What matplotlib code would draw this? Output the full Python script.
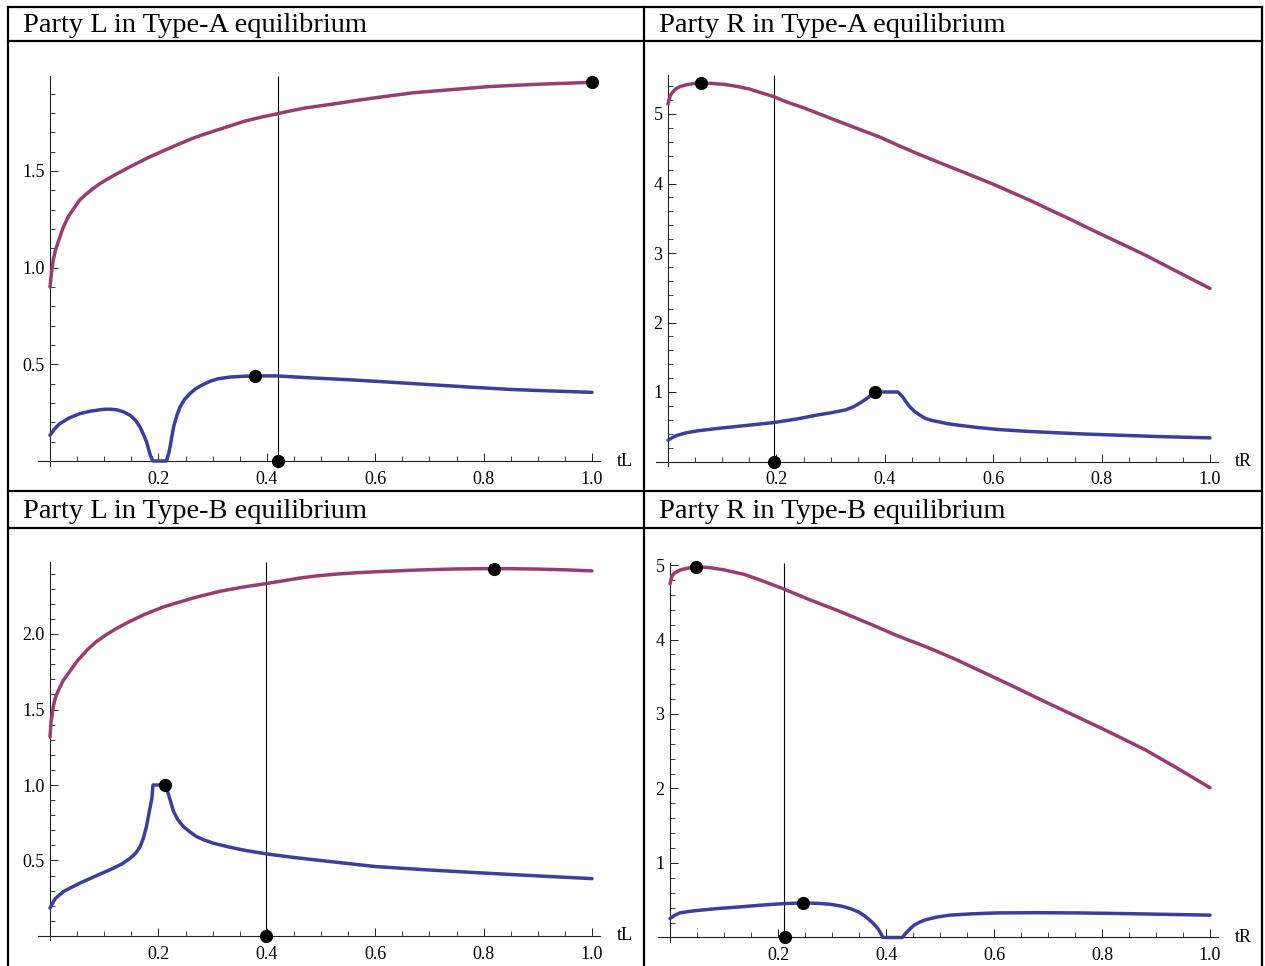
import numpy as np
import matplotlib
matplotlib.use('Agg')
import matplotlib.pyplot as plt
from matplotlib.lines import Line2D
from matplotlib.ticker import MultipleLocator, FixedLocator

plt.rcParams['font.family'] = ['Liberation Serif', 'DejaVu Serif']

W, H = 1265, 966
RED = '#993d71'
BLUE = '#3d3d9a'

#%% Data
titles = ["Party L in Type-A equilibrium", "Party R in Type-A equilibrium",
          "Party L in Type-B equilibrium", "Party R in Type-B equilibrium"]
xnames = ["tL", "tR", "tL", "tR"]

# Party L, Type-A
la_red_x = [0, 0.003, 0.006, 0.01, 0.016, 0.024, 0.034, 0.045, 0.055, 0.068, 0.08, 0.092, 0.105,
            0.12, 0.14, 0.158, 0.175, 0.19, 0.21, 0.228, 0.246, 0.262, 0.28, 0.298, 0.316, 0.336,
            0.36, 0.39, 0.42, 0.445, 0.47, 0.5, 0.528, 0.565, 0.6, 0.635, 0.67, 0.705, 0.74,
            0.775, 0.81, 0.855, 0.9, 0.95, 1.0]
la_red_y = [0.90, 0.98, 1.04, 1.09, 1.14, 1.205, 1.265, 1.31, 1.35, 1.383, 1.41, 1.434, 1.456,
            1.48, 1.51, 1.536, 1.56, 1.58, 1.605, 1.627, 1.648, 1.667, 1.685, 1.702, 1.718, 1.736,
            1.758, 1.778, 1.796, 1.811, 1.825, 1.837, 1.848, 1.864, 1.878, 1.891, 1.904, 1.912, 1.92,
            1.928, 1.936, 1.942, 1.948, 1.953, 1.958]
la_blue_x = [0, 0.008, 0.018, 0.035, 0.055, 0.075, 0.098, 0.11, 0.123, 0.135, 0.148, 0.158,
             0.166, 0.172, 0.178, 0.185, 0.19, 0.215, 0.219, 0.222, 0.225, 0.228, 0.234, 0.24,
             0.248, 0.258, 0.268, 0.28, 0.295, 0.31, 0.332, 0.355, 0.379, 0.418, 0.48, 0.553,
             0.625, 0.7, 0.775, 0.85, 0.925, 1.0]
la_blue_y = [0.133, 0.165, 0.193, 0.222, 0.245, 0.258, 0.267, 0.268, 0.265, 0.255, 0.236, 0.21,
             0.176, 0.14, 0.10, 0.03, 0, 0, 0.04, 0.08, 0.13, 0.176, 0.235, 0.28,
             0.318, 0.348, 0.372, 0.392, 0.412, 0.425, 0.434, 0.438, 0.44, 0.44, 0.43, 0.42,
             0.408, 0.395, 0.382, 0.37, 0.362, 0.355]
la_dots_x = [0.379, 1.0, 0.42]
la_dots_y = [0.44, 1.958, 0]
la_vline = 0.42

# Party R, Type-A
ra_red_x = [0, 0.002, 0.004, 0.008, 0.014, 0.022, 0.032, 0.045, 0.058, 0.08, 0.103, 0.125,
            0.15, 0.17, 0.195, 0.22, 0.25, 0.283, 0.316, 0.353, 0.39, 0.423, 0.457, 0.493, 0.53,
            0.565, 0.6, 0.635, 0.67, 0.705, 0.741, 0.775, 0.81, 0.847, 0.883, 0.94, 1.0]
ra_red_y = [5.144, 5.21, 5.26, 5.31, 5.36, 5.395, 5.417, 5.435, 5.446, 5.44, 5.427, 5.40,
            5.36, 5.31, 5.25, 5.17, 5.09, 4.99, 4.89, 4.78, 4.67, 4.555, 4.44, 4.325, 4.21,
            4.10, 3.99, 3.87, 3.75, 3.62, 3.49, 3.36, 3.23, 3.095, 2.96, 2.73, 2.49]
ra_blue_x = [0, 0.008, 0.018, 0.035, 0.055, 0.092, 0.14, 0.195, 0.24, 0.276, 0.3, 0.328, 0.343,
             0.357, 0.37, 0.381, 0.424, 0.428, 0.434, 0.44, 0.447, 0.455, 0.465, 0.475, 0.487,
             0.5, 0.515, 0.534, 0.57, 0.608, 0.66, 0.718, 0.77, 0.829, 0.9, 1.0]
ra_blue_y = [0.306, 0.345, 0.379, 0.415, 0.442, 0.476, 0.515, 0.56, 0.615, 0.67, 0.70, 0.743, 0.79,
             0.855, 0.925, 1.0, 1.0, 0.97, 0.92, 0.85, 0.78, 0.72, 0.665, 0.62, 0.59,
             0.57, 0.545, 0.524, 0.49, 0.461, 0.435, 0.413, 0.395, 0.379, 0.36, 0.34]
ra_dots_x = [0.06, 0.381, 0.195]
ra_dots_y = [5.446, 1.0, 0]
ra_vline = 0.195

# Party L, Type-B
lb_red_x = [0, 0.002, 0.006, 0.01, 0.016, 0.024, 0.034, 0.05, 0.069, 0.085, 0.104, 0.122, 0.14,
            0.157, 0.174, 0.192, 0.21, 0.228, 0.245, 0.262, 0.28, 0.298, 0.315, 0.355, 0.397,
            0.43, 0.46, 0.49, 0.526, 0.563, 0.6, 0.633, 0.666, 0.7, 0.74, 0.78, 0.82, 0.86,
            0.9, 0.95, 1.0]
lb_red_y = [1.318, 1.42, 1.518, 1.58, 1.63, 1.69, 1.74, 1.82, 1.896, 1.948, 1.996, 2.035, 2.07,
            2.1, 2.129, 2.155, 2.18, 2.2, 2.218, 2.236, 2.253, 2.269, 2.284, 2.31, 2.333,
            2.352, 2.37, 2.384, 2.396, 2.405, 2.412, 2.417, 2.422, 2.426, 2.43, 2.432, 2.433, 2.432,
            2.43, 2.425, 2.418]
lb_blue_x = [0, 0.009, 0.025, 0.055, 0.086, 0.117, 0.133, 0.148, 0.158, 0.166, 0.172, 0.178,
             0.183, 0.188, 0.19, 0.21, 0.214, 0.218, 0.223, 0.228, 0.236, 0.246, 0.258, 0.27,
             0.285, 0.301, 0.332, 0.36, 0.399, 0.45, 0.517, 0.6, 0.7, 0.8, 0.9, 1.0]
lb_blue_y = [0.185, 0.245, 0.295, 0.35, 0.40, 0.449, 0.478, 0.515, 0.548, 0.59, 0.645, 0.725,
             0.82, 0.912, 1.0, 1.0, 0.98, 0.945, 0.885, 0.824, 0.77, 0.725, 0.69, 0.659,
             0.635, 0.615, 0.588, 0.567, 0.544, 0.52, 0.493, 0.46, 0.437, 0.417, 0.398, 0.38]
lb_dots_x = [0.213, 0.82, 0.398]
lb_dots_y = [1.0, 2.433, 0]
lb_vline = 0.398

# Party R, Type-B
rb_red_x = [0, 0.0035, 0.008, 0.018, 0.03, 0.045, 0.06, 0.074, 0.1, 0.138, 0.17, 0.209, 0.26,
            0.315, 0.37, 0.421, 0.475, 0.527, 0.58, 0.633, 0.69, 0.74, 0.81, 0.88, 0.94, 1.0]
rb_red_y = [4.747, 4.85, 4.89, 4.93, 4.955, 4.97, 4.972, 4.964, 4.935, 4.873, 4.79, 4.683, 4.53,
            4.376, 4.21, 4.05, 3.9, 3.74, 3.56, 3.38, 3.18, 3.01, 2.77, 2.52, 2.27, 2.01]
rb_blue_x = [0, 0.008, 0.018, 0.035, 0.055, 0.09, 0.128, 0.17, 0.211, 0.246, 0.275, 0.297,
             0.318, 0.334, 0.35, 0.363, 0.375, 0.385, 0.39, 0.394, 0.43, 0.437, 0.445, 0.452,
             0.462, 0.474, 0.495, 0.518, 0.56, 0.606, 0.68, 0.753, 0.85, 1.0]
rb_blue_y = [0.254, 0.295, 0.33, 0.35, 0.366, 0.39, 0.41, 0.435, 0.455, 0.464, 0.458, 0.446,
             0.42, 0.388, 0.34, 0.277, 0.2, 0.12, 0.06, 0, 0, 0.06, 0.12, 0.165,
             0.205, 0.24, 0.275, 0.30, 0.318, 0.33, 0.333, 0.33, 0.32, 0.30]
rb_dots_x = [0.048, 0.246, 0.213]
rb_dots_y = [4.97, 0.464, 0]
rb_vline = 0.211

panels = [
    (la_red_x, la_red_y, la_blue_x, la_blue_y, la_dots_x, la_dots_y, la_vline),
    (ra_red_x, ra_red_y, ra_blue_x, ra_blue_y, ra_dots_x, ra_dots_y, ra_vline),
    (lb_red_x, lb_red_y, lb_blue_x, lb_blue_y, lb_dots_x, lb_dots_y, lb_vline),
    (rb_red_x, rb_red_y, rb_blue_x, rb_blue_y, rb_dots_x, rb_dots_y, rb_vline),
]

# y tick setup per panel: (major step, minor step, label format, top of y range)
yticks = [(0.5, 0.1, '{:.1f}', 1.99), (1, 0.2, '{:.0f}', 5.56),
          (0.5, 0.1, '{:.1f}', 2.48), (1, 0.2, '{:.0f}', 5.03)]

# pixel placement: origin x, px per x unit, origin y, px per y unit
place = [(50, 542, 461, 193.4), (668, 542, 461.5, 69.5),
         (50, 542, 936, 151), (670, 540, 937.5, 74.5)]

#%% Plot
fig = plt.figure(figsize=(W / 100, H / 100), dpi=100)

for i, (rx, ry, bx, by, dx, dy, vx) in enumerate(panels):
    x0, xu, y0, yu = place[i]
    maj, mnr, fmt, ytop = yticks[i]
    xa, xb = -0.022, 1.015
    ya, yb = -0.012 * ytop, ytop
    left = x0 + xa * xu
    right = x0 + xb * xu
    top = y0 - yb * yu
    bot = y0 - ya * yu
    ax = fig.add_axes([left / W, 1 - bot / H, (right - left) / W, (bot - top) / H])
    ax.set_xlim(xa, xb)
    ax.set_ylim(ya, yb)
    ax.patch.set_alpha(0)

    for s in ['top', 'right']:
        ax.spines[s].set_visible(False)
    ax.spines['left'].set_position(('data', 0))
    ax.spines['bottom'].set_position(('data', 0))
    for s in ['left', 'bottom']:
        ax.spines[s].set_linewidth(0.8)
        ax.spines[s].set_color('#222222')

    ax.xaxis.set_major_locator(FixedLocator([0.2, 0.4, 0.6, 0.8, 1.0]))
    ax.xaxis.set_minor_locator(MultipleLocator(0.05))
    ax.set_xticklabels(['0.2', '0.4', '0.6', '0.8', '1.0'])
    ymaj = np.arange(maj, ytop, maj)
    ax.yaxis.set_major_locator(FixedLocator(ymaj))
    ax.yaxis.set_minor_locator(MultipleLocator(mnr))
    ax.set_yticklabels([fmt.format(v) for v in ymaj])
    ax.tick_params(which='major', direction='in', length=6, width=0.7, labelsize=13,
                   color='#222222')
    ax.tick_params(which='minor', direction='in', length=3.5, width=0.6, color='#222222')
    ax.tick_params(axis='x', which='major', pad=7)
    ax.tick_params(axis='y', which='major', pad=4)

    ax.vlines(vx, 0, ytop, color='black', linewidth=0.8, zorder=2)
    ax.plot(rx, ry, color=RED, linewidth=2.5, solid_joinstyle='round', solid_capstyle='round',
            zorder=3)
    ax.plot(bx, by, color=BLUE, linewidth=2.5, solid_joinstyle='round', solid_capstyle='round',
            zorder=3)
    ax.plot(dx, dy, 'o', color='black', markersize=8.5, clip_on=False, zorder=4)

    ax.annotate(xnames[i], xy=(1, 0), xycoords=('axes fraction', 'data'),
                xytext=(12, 0), textcoords='offset points', va='center', ha='left',
                fontsize=13)

# table frame and titles
lw = 1.6
vlines_px = [8, 644, 1262]
hlines_px = [7, 41, 491, 528]
for xp in vlines_px:
    fig.add_artist(Line2D([xp / W, xp / W], [1 - 7 / H, 0], color='black', linewidth=lw))
for yp in hlines_px:
    fig.add_artist(Line2D([8 / W, 1262 / W], [1 - yp / H, 1 - yp / H], color='black', linewidth=lw))

title_pos = [(23, 25), (659, 25), (23, 512), (659, 512)]
for t, (tx, ty) in zip(titles, title_pos):
    fig.text(tx / W, 1 - ty / H, t, fontsize=20.5, ha='left', va='center')

fig.savefig('out.png', dpi=100)
